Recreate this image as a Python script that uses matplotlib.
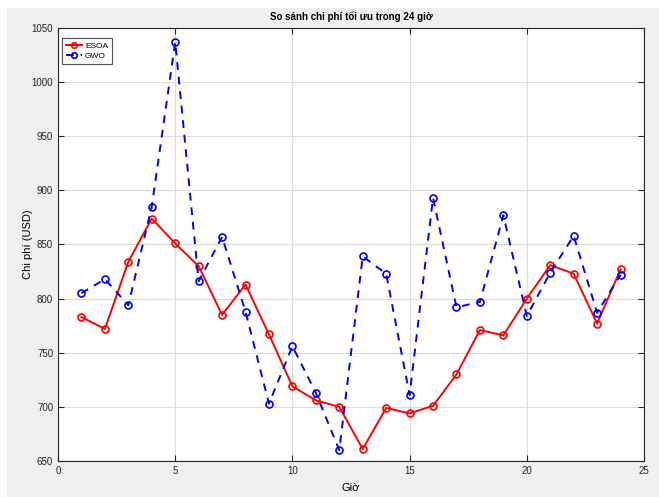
import matplotlib.pyplot as plt
import numpy as np
from matplotlib.patches import Rectangle

# So sanh chi phi toi uu trong 24 gio: ESOA vs GWO
hours = np.arange(1, 25)
esoa = [783, 772, 834, 874, 851, 830, 785, 813, 767, 719, 706, 700,
        661, 699, 694, 701, 730, 771, 766, 800, 831, 823, 777, 827]
gwo = [805, 818, 794, 885, 1037, 816, 857, 788, 703, 756, 713, 660,
       839, 823, 711, 893, 792, 797, 877, 784, 824, 858, 787, 822]

plt.rcParams['font.family'] = ['Liberation Sans', 'DejaVu Sans']

fig = plt.figure(figsize=(6.59, 4.97), dpi=100)
fig.patch.set_facecolor('white')
# matlab-ish gray figure background, with a thin white border top/left
bg = Rectangle((7/659, 0), 1, 489/497, transform=fig.transFigure,
               facecolor='#f0f0f0', edgecolor='none', zorder=-10)
fig.add_artist(bg)

ax = fig.add_axes([58/659, (497-461)/497, (644-58)/659, (461-28)/497])
ax.set_facecolor('white')

ax.plot(hours, esoa, '-o', color='red', lw=1.4, ms=5, mfc='none', mew=1.2, label='ESOA')
ax.plot(hours, gwo, '--o', color='blue', lw=1.4, ms=5, mfc='none', mew=1.2,
        dashes=(4, 3.5), label='GWO')

ax.set_xlim(0, 25)
ax.set_ylim(650, 1050)
ax.set_xticks([0, 5, 10, 15, 20, 25])
ax.set_yticks(np.arange(650, 1051, 50))
ax.grid(True, color='#dcdcdc', lw=0.8)
ax.tick_params(direction='in', top=True, right=True, labelsize=7, colors='#262626', length=4)
for s in ax.spines.values():
    s.set_color('#262626')
    s.set_linewidth(0.8)

ax.set_title('So sánh chi phí tối ưu trong 24 giờ', fontsize=7, fontweight='bold', pad=6)
ax.set_xlabel('Giờ', fontsize=8, labelpad=5)
ax.set_ylabel('Chi phí (USD)', fontsize=8, labelpad=-1)

leg = ax.legend(loc='upper left', fontsize=6, handlelength=2.0, borderpad=0.45,
                labelspacing=0.3, handletextpad=0.3, markerscale=0.8,
                fancybox=False, edgecolor='#262626', borderaxespad=0,
                bbox_to_anchor=(4/586, 1 - 10/433))
leg.get_frame().set_linewidth(0.8)

fig.savefig('out.png', dpi=100, facecolor=fig.get_facecolor())
